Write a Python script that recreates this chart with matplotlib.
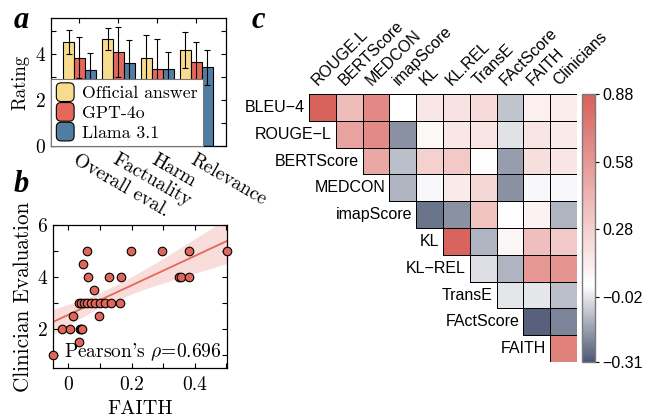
"""Three-panel figure: ratings bar chart, FAITH vs clinician scatter, metric correlation triangle."""

import matplotlib
matplotlib.use('Agg')
import matplotlib.pyplot as plt
import numpy as np
from matplotlib.colors import LinearSegmentedColormap, Normalize
from matplotlib.legend_handler import HandlerPatch
from matplotlib.patches import FancyBboxPatch, Patch
from matplotlib.ticker import MultipleLocator

plt.rcParams.update({
    'font.family': 'serif',
    'font.serif': ['cmr10'],
    'mathtext.fontset': 'cm',
    'axes.formatter.use_mathtext': True,
    'axes.unicode_minus': False,
    'font.size': 14,
    'xtick.direction': 'in',
    'ytick.direction': 'in',
    'xtick.top': True,
    'ytick.right': True,
    'axes.linewidth': 0.9,
})

# ---- panel a data
categories = ['Overall eval.', 'Factuality', 'Harm', 'Relevance']
models = ['Official answer', 'GPT-4o', 'Llama 3.1']
official_mean = [4.50, 4.65, 3.82, 4.18]
official_std = [0.52, 0.48, 1.02, 0.78]
gpt_mean = [3.84, 4.08, 3.36, 3.64]
gpt_std = [0.88, 1.10, 1.30, 0.86]
llama_mean = [3.32, 3.62, 3.36, 3.42]
llama_std = [0.70, 0.97, 0.74, 0.75]
bar_colors = ['#f8dc8e', '#e5685a', '#527da3']

# ---- panel b data
faith = [-0.050, -0.022, 0.006, 0.015, 0.033, 0.035, 0.039, 0.043,
         0.033, 0.040, 0.050, 0.058, 0.047, 0.059, 0.063, 0.080,
         0.072, 0.083, 0.100, 0.098, 0.117, 0.127, 0.135, 0.164,
         0.166, 0.197, 0.295, 0.350, 0.356, 0.383, 0.383, 0.502]
clinician = [1.0, 2.0, 2.0, 2.5, 1.5, 2.0, 2.0, 2.0,
             3.0, 3.0, 3.0, 3.0, 4.5, 5.0, 4.0, 3.5,
             3.0, 3.0, 3.0, 2.5, 3.0, 4.0, 3.0, 3.0,
             4.0, 5.0, 5.0, 4.0, 4.0, 4.0, 5.0, 5.0]
pearson_text = "Pearson's $\\rho$=0.696"

# ---- panel c data (upper triangle, row i starts at column i)
row_labels = ['BLEU\u22124', 'ROUGE\u2212L', 'BERTScore', 'MEDCON', 'imapScore',
              'KL', 'KL\u2212REL', 'TransE', 'FActScore', 'FAITH']
col_labels = ['ROUGE.L', 'BERTScore', 'MEDCON', 'imapScore', 'KL', 'KL.REL',
              'TransE', 'FActScore', 'FAITH', 'Clinicians']
corr_rows = [
    [0.87, 0.39, 0.66, 0.03, 0.16, 0.18, 0.22, -0.09, 0.11, 0.13],
    [0.52, 0.65, -0.19, 0.07, 0.16, 0.17, -0.03, 0.17, 0.14],
    [0.49, -0.10, 0.28, 0.32, 0.04, -0.17, 0.20, 0.17],
    [-0.12, 0.02, 0.14, 0.24, -0.19, 0.02, 0.02],
    [-0.25, -0.19, 0.35, 0.04, 0.10, -0.12],
    [0.86, -0.12, 0.08, 0.37, 0.31],
    [-0.035, -0.12, 0.58, 0.60],
    [-0.02, -0.02, -0.10],
    [-0.29, -0.22],
    [0.70],
]
cbar_ticks = [-0.31, -0.02, 0.28, 0.58, 0.88]

fig = plt.figure(figsize=(6.46, 4.18), dpi=100)
W, H = 646, 418


def px_axes(x0, y0, x1, y1):
    return fig.add_axes([x0 / W, 1 - y1 / H, (x1 - x0) / W, (y1 - y0) / H])


def panel_letter(x, y, s):
    fig.text(x / W, 1 - y / H, s, family='Liberation Serif', weight='bold',
             style='italic', size=22, va='center', ha='left')


# ---- panel a: bars
ax_a = px_axes(51, 18, 226, 146)
x = np.arange(len(categories))
width = 0.28
for k, (mean, std) in enumerate([(official_mean, official_std),
                                 (gpt_mean, gpt_std),
                                 (llama_mean, llama_std)]):
    ax_a.bar(x + (k - 1) * width, mean, width, yerr=std, color=bar_colors[k],
             edgecolor='black', linewidth=0.8, capsize=2.2,
             error_kw={'elinewidth': 0.8, 'capthick': 0.8}, zorder=2)
ax_a.set_xlim(-0.73, 3.76)
ax_a.set_ylim(0, 5.56)
ax_a.set_yticks([0, 2, 4])
ax_a.yaxis.set_minor_locator(MultipleLocator(1))
ax_a.tick_params(which='both', length=3.5, width=0.8, labelsize=14)
ax_a.set_xticks(x)
ax_a.set_xticklabels(categories, rotation=-30, ha='left', va='top',
                     rotation_mode='anchor')
ax_a.set_ylabel('Rating', labelpad=4, fontsize=13.5)


def round_box(legend, orig_handle, xdescent, ydescent, width, height, fontsize):
    return FancyBboxPatch((-xdescent, -ydescent - 1), width, height + 2,
                          boxstyle='round,pad=0,rounding_size=3.5')


handles = [Patch(facecolor=c, edgecolor='black', linewidth=0.8) for c in bar_colors]
leg = ax_a.legend(handles, models, loc='lower left', borderaxespad=0,
                  fancybox=False, framealpha=1, edgecolor='#777777',
                  handlelength=1.0, handleheight=1.0, handletextpad=0.45,
                  labelspacing=0.15, borderpad=0.3, fontsize=12.8,
                  handler_map={Patch: HandlerPatch(patch_func=round_box)})
leg.get_frame().set_linewidth(0.8)
leg.set_zorder(5)

# ---- panel b: scatter with fit
ax_b = px_axes(52.7, 225, 227, 368)
fx = np.array(faith)
fy = np.array(clinician)
slope, icpt = np.polyfit(fx, fy, 1)
xs = np.linspace(fx.min(), fx.max(), 100)
resid = fy - (slope * fx + icpt)
s_err = np.sqrt(np.sum(resid ** 2) / (len(fx) - 2))
sxx = np.sum((fx - fx.mean()) ** 2)
half = 2.04 * s_err * np.sqrt(1 / len(fx) + (xs - fx.mean()) ** 2 / sxx)
ax_b.fill_between(xs, slope * xs + icpt - half, slope * xs + icpt + half,
                  color='#e5685a', alpha=0.22, linewidth=0, zorder=1)
ax_b.plot(xs, slope * xs + icpt, color='#e5685a', lw=1.3, zorder=2)
ax_b.scatter(fx, fy, s=38, color='#e0665a', edgecolor='black', linewidth=0.8,
             zorder=3, clip_on=False)
ax_b.set_xlim(fx.min(), fx.max())
ax_b.set_ylim(0.5, 6)
ax_b.set_xticks([0, 0.2, 0.4])
ax_b.set_xticklabels(['0', '0.2', '0.4'])
ax_b.set_yticks([2, 4, 6])
ax_b.xaxis.set_minor_locator(MultipleLocator(0.1))
ax_b.yaxis.set_minor_locator(MultipleLocator(1))
ax_b.tick_params(which='both', length=3.5, width=0.8, labelsize=14)
ax_b.tick_params(axis='x', pad=6)
ax_b.set_xlabel('FAITH', labelpad=4, fontsize=14.5)
ax_b.set_ylabel('Clinician Evaluation', labelpad=3, fontsize=15.3)
ax_b.text(0.97, 0.035, pearson_text, transform=ax_b.transAxes, ha='right',
          va='bottom', fontsize=14)

# ---- panel c: correlation triangle
vmin, vmax, white_at = -0.31, 0.88, 0.03
cmap = LinearSegmentedColormap.from_list(
    'corr', [(0.0, '#4d5873'), ((white_at - vmin) / (vmax - vmin), '#ffffff'),
             (1.0, '#d8605a')])
norm = Normalize(vmin, vmax)
sans = 'Liberation Sans'

ax_c = px_axes(309, 94, 577, 362)
n = len(row_labels)
for i, vals in enumerate(corr_rows):
    ax_c.pcolormesh(np.arange(i, n + 1), [i, i + 1], np.array([vals]),
                    cmap=cmap, norm=norm, edgecolors='black', linewidth=0.6)
    ax_c.text(i - 0.15, i + 0.5, row_labels[i], family=sans, fontsize=11.5,
              ha='right', va='center')
for j, lab in enumerate(col_labels):
    ax_c.text(j + 0.42, -0.22, lab, family=sans, fontsize=11.5, rotation=45,
              ha='left', va='bottom', rotation_mode='anchor')
ax_c.set_xlim(0, n)
ax_c.set_ylim(n, 0)
ax_c.axis('off')

cax = px_axes(582, 94, 595, 362)
cb = fig.colorbar(plt.cm.ScalarMappable(norm=norm, cmap=cmap), cax=cax)
cb.outline.set_edgecolor('#7a7a7a')
cb.outline.set_linewidth(1.0)
cb.set_ticks(cbar_ticks)
cb.set_ticklabels([f'{t:.2f}'.replace('-', '\u2212') for t in cbar_ticks])
cax.tick_params(direction='out', length=3, width=0.8, labelsize=11.5, pad=2)
for lbl in cax.get_yticklabels():
    lbl.set_family(sans)

panel_letter(14, 20, 'a')
panel_letter(14, 184, 'b')
panel_letter(252, 21, 'c')

fig.savefig('out.png', dpi=100)
